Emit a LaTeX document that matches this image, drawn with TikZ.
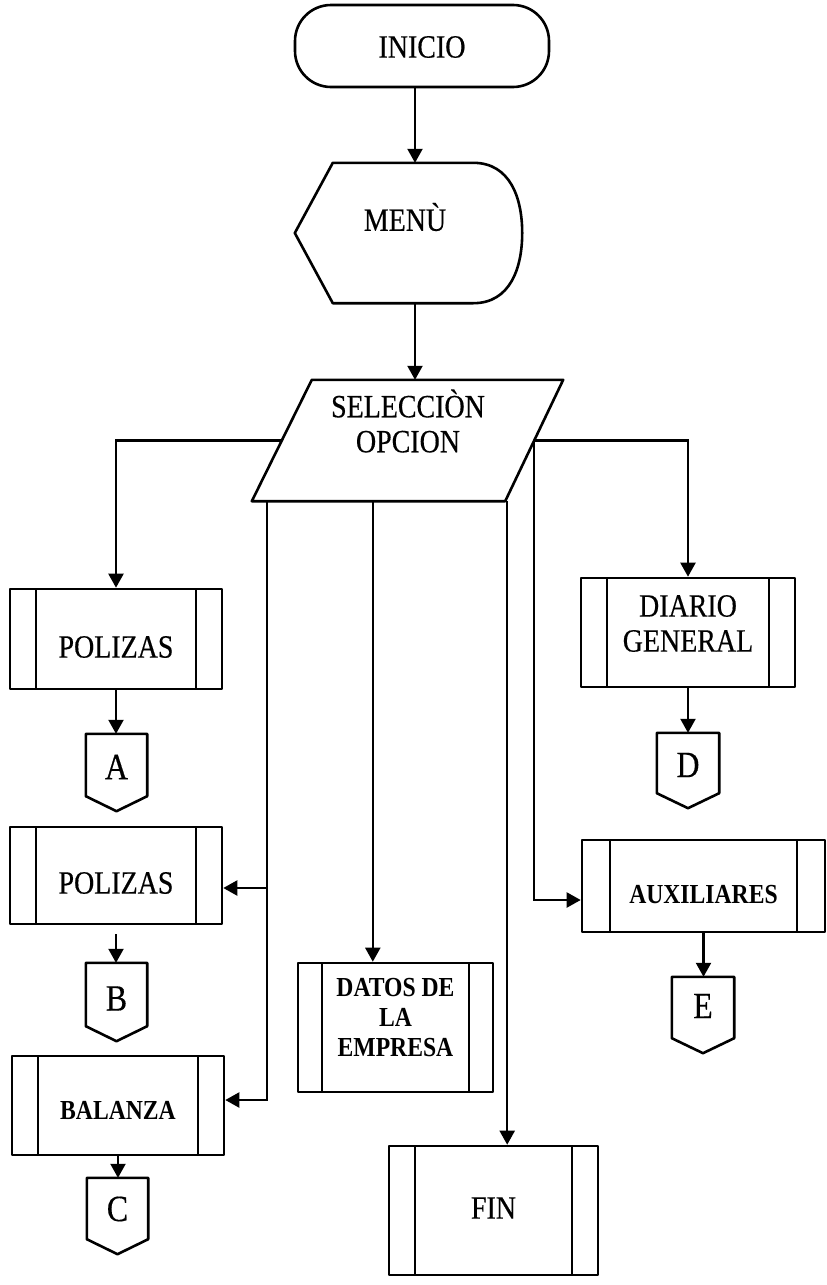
\documentclass[tikz,border=0pt]{standalone}
\usepackage{fontspec}
\setmainfont{Liberation Serif}[FakeStretch=0.86, UprightFeatures={FakeBold=0.4}]
\usetikzlibrary{arrows.meta,calc}
\tikzset{
  shp/.style={draw, line width=2.6pt, line join=round},
  box/.style={shp, rectangle, inner sep=0pt},
  proc/.style={box, path picture={\draw[line width=2.6pt]
      ([xshift=#1]path picture bounding box.north west) -- ([xshift=#1]path picture bounding box.south west)
      ([xshift=-#1]path picture bounding box.north east) -- ([xshift=-#1]path picture bounding box.south east);}},
  proc/.default=26pt,
  ghost/.style={inner sep=0pt, draw=none},
  txt/.style={font=\fontsize{32.5}{35}\selectfont, align=center, inner sep=0pt},
  btxt/.style={font=\bfseries\fontsize{27.5}{30}\selectfont, align=center, inner sep=0pt},
  ltxt/.style={font=\fontsize{37}{40}\selectfont, inner sep=0pt},
  conn/.style={line width=2.2pt, -{Triangle[width=15pt,length=14pt]}},
}
\begin{document}
\begin{tikzpicture}[x=1pt,y=-1pt]
\useasboundingbox (0,0) rectangle (827,1285);

% INICIO
\node[box, rounded corners=36pt, minimum width=254pt, minimum height=82pt] (inicio) at (422,46) {};
\node[txt] (inicioT) at (422,47) {INICIO};

% MENU
\node[ghost, minimum width=227pt, minimum height=140pt] (menu) at (408.5,233) {};
\draw[shp] (menu.west) -- ([xshift=38pt]menu.north west) -- ([xshift=-49pt]menu.north east)
  .. controls ([xshift=-12pt]menu.north east) and ([yshift=35pt]menu.east) .. (menu.east)
  .. controls ([yshift=-35pt]menu.east) and ([xshift=-12pt]menu.south east) .. ([xshift=-49pt]menu.south east)
  -- ([xshift=38pt]menu.south west) -- cycle;
\node[txt] (menuT) at (405,217) {MENÙ};

% SELECCION
\node[ghost, minimum width=311pt, minimum height=121pt] (sel) at (407.5,440.5) {};
\draw[shp] ([xshift=60pt]sel.north west) -- (sel.north east) -- ([xshift=-58pt]sel.south east) -- (sel.south west) -- cycle;
\node[txt] (selT) at (408,421) {SELECCIÒN\\OPCION};

% left column
\node[proc, minimum width=212pt, minimum height=100pt] (pol1) at (116,639) {};
\node[txt] (pol1T) at (116,647) {POLIZAS};
\node[ghost, minimum width=61pt, minimum height=77pt] (A) at (116.5,772.5) {};
\node[ltxt] (AT) at (116.5,767) {A};

\node[proc, minimum width=212pt, minimum height=97pt] (pol2) at (116,875.5) {};
\node[txt] (pol2T) at (116,883) {POLIZAS};
\node[ghost, minimum width=61pt, minimum height=78pt] (B) at (116.5,1002) {};
\node[ltxt] (BT) at (116.5,998.5) {B};

\node[proc, minimum width=212pt, minimum height=99pt] (bal) at (118,1105.5) {};
\node[btxt] (balT) at (118,1110) {BALANZA};
\node[ghost, minimum width=61pt, minimum height=76pt] (C) at (117.5,1216) {};
\node[ltxt] (CT) at (117.5,1209) {C};

% middle
\node[proc=24pt, minimum width=195pt, minimum height=129pt] (datos) at (395.5,1027.5) {};
\node[btxt] (datosT) at (395.5,1018) {DATOS DE\\LA\\EMPRESA};
\node[proc, minimum width=209pt, minimum height=129pt] (fin) at (493.5,1210.5) {};
\node[txt] (finT) at (493.5,1208) {FIN};

% right column
\node[proc, minimum width=214pt, minimum height=109pt] (diario) at (688,632.5) {};
\node[txt] (diarioT) at (688,623.5) {DIARIO\\GENERAL};
\node[ghost, minimum width=62pt, minimum height=75pt] (D) at (688,770.5) {};
\node[ltxt] (DT) at (688,765) {D};

\node[proc=28pt, minimum width=243pt, minimum height=92pt] (aux) at (703.5,886) {};
\node[btxt] (auxT) at (703.5,895) {AUXILIARES};
\node[ghost, minimum width=62pt, minimum height=76pt] (E) at (703,1015) {};
\node[ltxt] (ET) at (703,1006) {E};

% off-page connector outlines
\foreach \n in {A,B,C,D,E}
  \draw[shp] (\n.north west) -- (\n.north east) -- ([yshift=15pt]\n.south east) -- (\n.south)
    -- ([yshift=15pt]\n.south west) -- cycle;

% connectors
\draw[conn] ([xshift=-7pt]inicio.south) -- ([xshift=-7pt]inicio.south |- menu.north);
\draw[conn] ([xshift=6.5pt]menu.south) -- ([xshift=7.5pt]sel.north);

\coordinate (selL) at ([xshift=30pt]sel.west);
\coordinate (selR) at ([xshift=-29pt]sel.east);
\coordinate (b1) at ([xshift=15pt]sel.south west);
\coordinate (b2) at ([xshift=121pt]sel.south west);
\coordinate (b3) at ([xshift=-56pt]sel.south east);

\draw[conn] (selL) -| (pol1.north);
\draw[conn] (selR) -| (diario.north);
\draw[conn] (selR) |- ([yshift=-14pt]aux.west);
\draw[conn] (b1) |- ([yshift=-12.5pt]pol2.east);
\draw[conn] (b1) |- ([yshift=5.5pt]bal.east);
\draw[conn] (b2) -- (b2 |- datos.north);
\draw[conn] (b3) -- (b3 |- fin.north);

\draw[conn] (pol1.south) -- (pol1.south |- A.north);
\draw[conn] ([yshift=-9pt]pol2.south) -- (pol2.south |- B.north);
\draw[conn] (bal.south) -- (bal.south |- C.north);
\draw[conn] (diario.south) -- (diario.south |- D.north);
\draw[conn] (aux.south) -- (aux.south |- E.north);
\end{tikzpicture}
\end{document}
